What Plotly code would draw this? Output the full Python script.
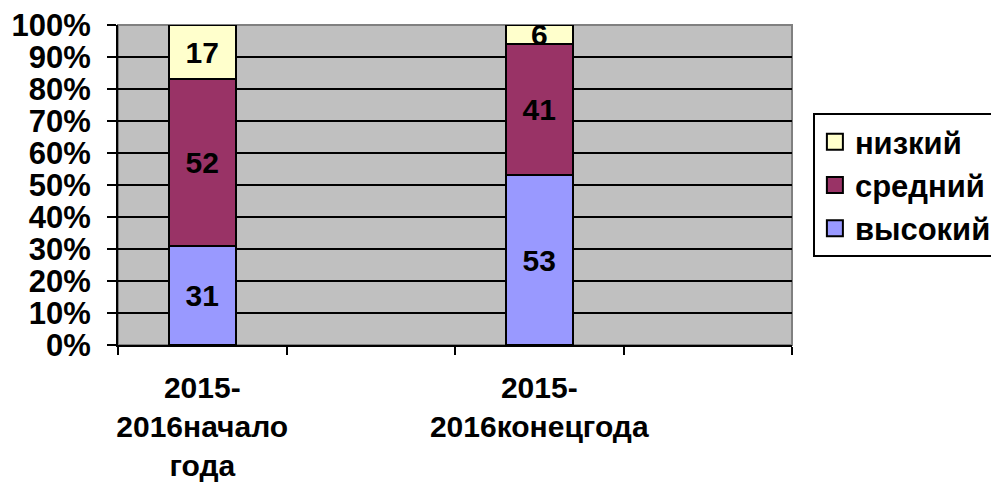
import plotly.graph_objects as go

categories = ["2015-<br>2016начало<br>года", " ", "2015-<br>2016конецгода", "  "]
bar_categories = ["2015-<br>2016начало<br>года", "2015-<br>2016конецгода"]
vysokiy = [31, 53]
sredniy = [52, 41]
nizkiy = [17, 6]
series = [("высокий", vysokiy, "#9999FF"), ("средний", sredniy, "#993366"), ("низкий", nizkiy, "#FFFFCC")]
y_ticks = [0, 10, 20, 30, 40, 50, 60, 70, 80, 90, 100]

FONT = "Liberation Sans, Arial, sans-serif"
fig = go.Figure()
for name, vals, color in series:
    fig.add_trace(go.Bar(
        x=bar_categories, y=vals, name=name, showlegend=False,
        marker=dict(color=color, line=dict(color="black", width=2)),
        text=["<b>%d</b>" % v for v in vals], textposition="inside", insidetextanchor="middle",
        constraintext="none", textangle=0,
        textfont=dict(family=FONT, size=30, color="black"),
    ))
for name, vals, color in series:
    fig.add_trace(go.Scatter(
        x=[None], y=[None], mode="markers", name="<b>%s</b>" % name,
        marker=dict(symbol="square", size=20, color=color, line=dict(color="black", width=2)),
    ))

fig.update_layout(
    width=991, height=477,
    barmode="stack", bargap=0.6,
    paper_bgcolor="white", plot_bgcolor="#C0C0C0",
    margin=dict(l=110, r=207, t=17, b=140, autoexpand=False),
    font=dict(family=FONT, size=31, color="black"),
    legend=dict(x=1.031, y=0.725, xanchor="left", yanchor="top",
                traceorder="reversed", bordercolor="black", borderwidth=2,
                bgcolor="white", font=dict(size=31),
                itemwidth=30, tracegroupgap=0),
    xaxis=dict(type="category", categoryorder="array", categoryarray=categories,
               ticktext=["<b>2015-<br>2016начало<br>года</b>", "", "<b>2015-<br>2016конецгода</b>", ""],
               tickvals=categories,
               range=[-0.5, 3.5], tickson="boundaries", ticks="outside", ticklen=8,
               tickwidth=2, tickcolor="black", showline=True, linecolor="black", linewidth=2,
               showgrid=False, tickangle=0, ticklabelstandoff=15, automargin=False,
               ticklabeloverflow="allow", tickfont=dict(size=30)),
    yaxis=dict(range=[0, 100], tickvals=y_ticks, ticktext=["<b>%d%%</b>" % v for v in y_ticks],
               ticks="outside", ticklen=9, automargin=False, ticklabelstandoff=10,
               ticklabeloverflow="allow",
               tickwidth=2, tickcolor="black", showline=True, linecolor="black", linewidth=2,
               showgrid=True, gridcolor="black", gridwidth=2, zeroline=False,
               tickfont=dict(size=31)),
)
fig.add_shape(type="rect", xref="paper", yref="paper", x0=0, y0=0, x1=1, y1=1,
              line=dict(color="#808080", width=2), layer="below")
fig.write_html("out.html")
